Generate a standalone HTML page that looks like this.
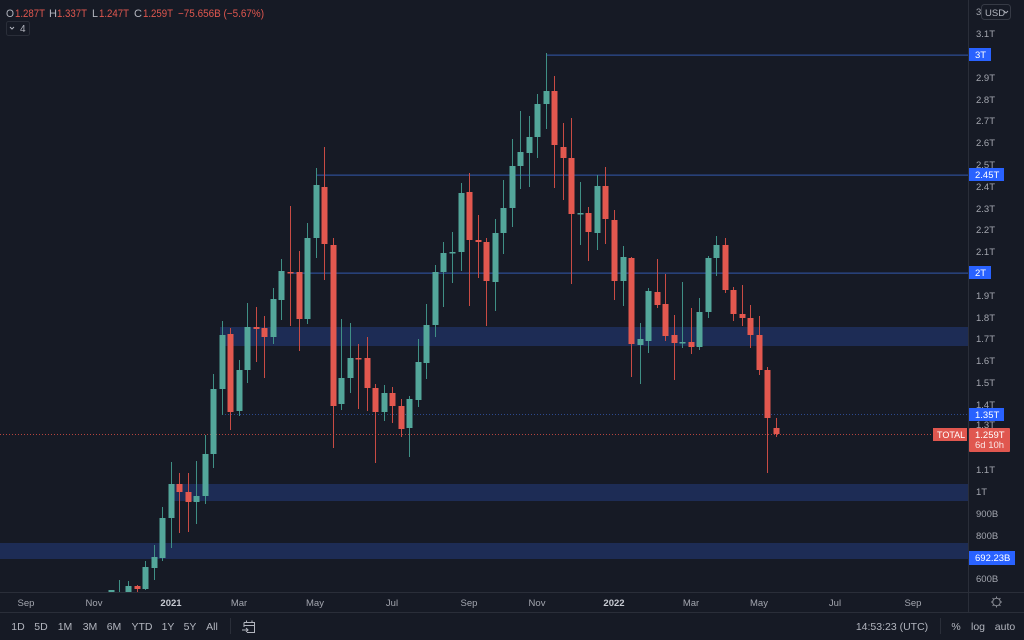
<!DOCTYPE html>
<html>
<head>
<meta charset="utf-8">
<style>
  html,body{margin:0;padding:0;background:#161a25;}
  svg{display:block;}
  text{font-family:"Liberation Sans",sans-serif;}
</style>
</head>
<body>
<svg width="1024" height="640" viewBox="0 0 1024 640" xmlns="http://www.w3.org/2000/svg">
  <defs>
    <clipPath id="chart"><rect x="0" y="0" width="968" height="592"/></clipPath>
  </defs>
  <rect x="0" y="0" width="1024" height="640" fill="#161a25"/>

  <g clip-path="url(#chart)">
    <!-- zones -->
    <rect x="220" y="327" width="748" height="19" fill="#1d2c55"/>
    <rect x="174" y="484" width="794" height="17" fill="#1d2c55"/>
    <rect x="0" y="543" width="968" height="16" fill="#1d2c55"/>
    <!-- horizontal lines -->
    <rect x="546" y="54.5" width="422" height="1.3" fill="#2c4a8e"/>
    <rect x="316" y="174.5" width="652" height="1.3" fill="#2c4a8e"/>
    <rect x="290" y="272.5" width="678" height="1.3" fill="#2c4a8e"/>
    <line x1="222" y1="414.5" x2="968" y2="414.5" stroke="#2c4a8e" stroke-width="1" stroke-dasharray="1,2"/>
    <line x1="0" y1="434.5" x2="968" y2="434.5" stroke="#b5443e" stroke-width="1" stroke-dasharray="1,2"/>

    <!-- green wicks -->
    <path fill="none" stroke="#3f8f85" stroke-width="1" d="
M111.5 590V593 M119.5 580V593 M128.5 581V593 M145.5 561V590 M154.5 545V580 M162.5 507V561 M171.5 462V548
M196.5 461V524 M205.5 435V504 M213.5 374V468 M222.5 321V415 M239.5 360V416 M247.5 303V383 M273.5 288V344
M281.5 259V320 M307.5 223V324 M316.5 168V258 M341.5 319V410 M350.5 323V393 M384.5 385V421 M409.5 396V457
M418.5 339V407 M426.5 304V379 M435.5 265V337 M443.5 242V307 M452.5 232V283 M461.5 183V271 M495.5 219V311
M503.5 180V254 M512.5 139V227 M520.5 111V189 M529.5 116V187 M537.5 94V158 M546.5 53V129 M580.5 182V245
M597.5 175V250 M623.5 246V306 M640.5 323V384 M648.5 288V353 M682.5 282V348 M699.5 298V350 M708.5 256V318
M716.5 236V276"/>
    <!-- red wicks -->
    <path fill="none" stroke="#c84b44" stroke-width="1" d="
M137.5 585V593 M179.5 473V533 M188.5 473V532 M230.5 328V430 M256.5 307V362 M264.5 316V378 M290.5 206V326
M299.5 251V351 M324.5 147V280 M333.5 238V448 M358.5 344V409 M367.5 337V411 M375.5 384V463 M392.5 387V423
M401.5 399V437 M469.5 173V306 M478.5 215V278 M486.5 238V326 M554.5 76V188 M563.5 123V200 M571.5 118V284
M588.5 207V261 M605.5 167V244 M614.5 210V300 M631.5 257V377 M657.5 259V308 M665.5 274V341 M674.5 315V380
M691.5 308V354 M725.5 238V293 M733.5 287V321 M742.5 285V326 M750.5 305V348 M759.5 316V375 M767.5 367V473
M776.5 418V437"/>

    <!-- green bodies -->
    <g fill="#53a69a">
      <rect x="108.5" y="590" width="6" height="2"/>
      <rect x="116.5" y="592" width="6" height="1"/>
      <rect x="125.5" y="586" width="6" height="6"/>
      <rect x="142.5" y="567" width="6" height="22"/>
      <rect x="151.5" y="557" width="6" height="11"/>
      <rect x="159.5" y="518" width="6" height="40"/>
      <rect x="168.5" y="484" width="6" height="34"/>
      <rect x="193.5" y="496" width="6" height="6"/>
      <rect x="202.5" y="454" width="6" height="42"/>
      <rect x="210.5" y="389" width="6" height="65"/>
      <rect x="219.5" y="335" width="6" height="54"/>
      <rect x="236.5" y="370" width="6" height="41"/>
      <rect x="244.5" y="327" width="6" height="43"/>
      <rect x="270.5" y="299" width="6" height="38"/>
      <rect x="278.5" y="271" width="6" height="29"/>
      <rect x="304.5" y="238" width="6" height="81"/>
      <rect x="313.5" y="185" width="6" height="53"/>
      <rect x="338.5" y="378" width="6" height="26"/>
      <rect x="347.5" y="358" width="6" height="20"/>
      <rect x="381.5" y="393" width="6" height="19"/>
      <rect x="406.5" y="399" width="6" height="29"/>
      <rect x="415.5" y="362" width="6" height="38"/>
      <rect x="423.5" y="325" width="6" height="38"/>
      <rect x="432.5" y="272" width="6" height="53"/>
      <rect x="440.5" y="253" width="6" height="19"/>
      <rect x="449.5" y="252" width="6" height="1.5"/>
      <rect x="458.5" y="193" width="6" height="59"/>
      <rect x="492.5" y="233" width="6" height="49"/>
      <rect x="500.5" y="208" width="6" height="25"/>
      <rect x="509.5" y="166" width="6" height="42"/>
      <rect x="517.5" y="152" width="6" height="14"/>
      <rect x="526.5" y="137" width="6" height="16"/>
      <rect x="534.5" y="104" width="6" height="33"/>
      <rect x="543.5" y="91" width="6" height="13"/>
      <rect x="577.5" y="213" width="6" height="1.5"/>
      <rect x="594.5" y="186" width="6" height="47"/>
      <rect x="620.5" y="257" width="6" height="24"/>
      <rect x="637.5" y="339" width="6" height="6"/>
      <rect x="645.5" y="291" width="6" height="50"/>
      <rect x="679.5" y="342" width="6" height="1.5"/>
      <rect x="696.5" y="312" width="6" height="35"/>
      <rect x="705.5" y="258" width="6" height="54"/>
      <rect x="713.5" y="245" width="6" height="13"/>
    </g>
    <!-- red bodies -->
    <g fill="#e3584f">
      <rect x="134.5" y="586" width="6" height="3"/>
      <rect x="176.5" y="484" width="6" height="8"/>
      <rect x="185.5" y="492" width="6" height="10"/>
      <rect x="227.5" y="334" width="6" height="78"/>
      <rect x="253.5" y="327" width="6" height="2"/>
      <rect x="261.5" y="328" width="6" height="9"/>
      <rect x="287.5" y="272" width="6" height="1.5"/>
      <rect x="296.5" y="272" width="6" height="47"/>
      <rect x="321.5" y="187" width="6" height="57"/>
      <rect x="330.5" y="245" width="6" height="161"/>
      <rect x="355.5" y="358" width="6" height="1.5"/>
      <rect x="364.5" y="358" width="6" height="30"/>
      <rect x="372.5" y="388" width="6" height="24"/>
      <rect x="389.5" y="393" width="6" height="13"/>
      <rect x="398.5" y="406" width="6" height="23"/>
      <rect x="466.5" y="192" width="6" height="48"/>
      <rect x="475.5" y="240" width="6" height="2"/>
      <rect x="483.5" y="242" width="6" height="39"/>
      <rect x="551.5" y="91" width="6" height="54"/>
      <rect x="560.5" y="147" width="6" height="11"/>
      <rect x="568.5" y="158" width="6" height="56"/>
      <rect x="585.5" y="213" width="6" height="19"/>
      <rect x="602.5" y="186" width="6" height="33"/>
      <rect x="611.5" y="220" width="6" height="61"/>
      <rect x="628.5" y="258" width="6" height="86"/>
      <rect x="654.5" y="292" width="6" height="13"/>
      <rect x="662.5" y="304" width="6" height="32"/>
      <rect x="671.5" y="335" width="6" height="8"/>
      <rect x="688.5" y="342" width="6" height="5"/>
      <rect x="722.5" y="245" width="6" height="45"/>
      <rect x="730.5" y="290" width="6" height="24"/>
      <rect x="739.5" y="314" width="6" height="4"/>
      <rect x="747.5" y="318" width="6" height="17"/>
      <rect x="756.5" y="335" width="6" height="35"/>
      <rect x="764.5" y="370" width="6" height="48"/>
      <rect x="773.5" y="428" width="6" height="6"/>
    </g>
  </g>

  <!-- header -->
  <g font-size="11">
    <text x="6" y="17" fill="#b2b5be" textLength="8" lengthAdjust="spacingAndGlyphs">O</text>
    <text x="15" y="17" fill="#e0574f" textLength="30" lengthAdjust="spacingAndGlyphs">1.287T</text>
    <text x="49" y="17" fill="#b2b5be" textLength="8" lengthAdjust="spacingAndGlyphs">H</text>
    <text x="57" y="17" fill="#e0574f" textLength="30" lengthAdjust="spacingAndGlyphs">1.337T</text>
    <text x="92" y="17" fill="#b2b5be" textLength="6" lengthAdjust="spacingAndGlyphs">L</text>
    <text x="99" y="17" fill="#e0574f" textLength="30" lengthAdjust="spacingAndGlyphs">1.247T</text>
    <text x="134" y="17" fill="#b2b5be" textLength="8" lengthAdjust="spacingAndGlyphs">C</text>
    <text x="143" y="17" fill="#e0574f" textLength="30" lengthAdjust="spacingAndGlyphs">1.259T</text>
    <text x="178" y="17" fill="#e0574f" textLength="86" lengthAdjust="spacingAndGlyphs">−75.656B (−5.67%)</text>
  </g>
  <rect x="6.5" y="21.5" width="23" height="14" rx="2" fill="none" stroke="#2a2e39"/>
  <path d="M10 27 L12 29 L14 27" fill="none" stroke="#b2b5be" stroke-width="1"/>
  <text x="20" y="32" font-size="10" fill="#b2b5be">4</text>

  <!-- price axis -->
  <line x1="968.5" y1="0" x2="968.5" y2="612" stroke="#2a2e39"/>
  <g font-size="9.5" fill="#a3a6af">
    <text x="976" y="15">3</text>
    <text x="976" y="37">3.1T</text>
    <text x="976" y="81">2.9T</text>
    <text x="976" y="103">2.8T</text>
    <text x="976" y="124">2.7T</text>
    <text x="976" y="146">2.6T</text>
    <text x="976" y="168">2.5T</text>
    <text x="976" y="190">2.4T</text>
    <text x="976" y="212">2.3T</text>
    <text x="976" y="233">2.2T</text>
    <text x="976" y="255">2.1T</text>
    <text x="976" y="299">1.9T</text>
    <text x="976" y="321">1.8T</text>
    <text x="976" y="342">1.7T</text>
    <text x="976" y="364">1.6T</text>
    <text x="976" y="386">1.5T</text>
    <text x="976" y="408">1.4T</text>
    <text x="976" y="428">1.3T</text>
    <text x="976" y="473">1.1T</text>
    <text x="976" y="495">1T</text>
    <text x="976" y="517">900B</text>
    <text x="976" y="539">800B</text>
    <text x="976" y="582">600B</text>
  </g>
  <!-- USD button -->
  <rect x="981.5" y="4.5" width="29" height="15" rx="3" fill="#161a25" stroke="#363a45"/>
  <text x="985" y="16" font-size="9.5" fill="#b2b5be">USD</text>
  <path d="M1004 11 L1006 13 L1008 11" fill="none" stroke="#b2b5be" stroke-width="0.9"/>

  <!-- price labels -->
  <rect x="969" y="48" width="22" height="13" fill="#2962ff"/>
  <text x="975" y="58" font-size="9.5" fill="#ffffff">3T</text>
  <rect x="969" y="168" width="35" height="13" fill="#2962ff"/>
  <text x="975" y="178" font-size="9.5" fill="#ffffff">2.45T</text>
  <rect x="969" y="266" width="22" height="13" fill="#2962ff"/>
  <text x="975" y="276" font-size="9.5" fill="#ffffff">2T</text>
  <rect x="969" y="408" width="35" height="13" fill="#2962ff"/>
  <text x="975" y="418" font-size="9.5" fill="#ffffff">1.35T</text>
  <rect x="969" y="551" width="46" height="14" fill="#2962ff"/>
  <text x="975" y="561" font-size="9.5" fill="#ffffff">692.23B</text>
  <!-- TOTAL + current price -->
  <rect x="933" y="428" width="34" height="13" fill="#e0574f"/>
  <text x="937" y="438" font-size="9" fill="#ffffff">TOTAL</text>
  <rect x="969" y="428" width="41" height="24" rx="1" fill="#e0574f"/>
  <text x="975" y="438" font-size="9.5" fill="#ffffff">1.259T</text>
  <text x="975" y="448" font-size="9.5" fill="#ffffff" opacity="0.85">6d 10h</text>

  <!-- time axis -->
  <line x1="0" y1="592.5" x2="1024" y2="592.5" stroke="#2a2e39"/>
  <line x1="0" y1="612.5" x2="1024" y2="612.5" stroke="#2a2e39"/>
  <g font-size="9.5" fill="#a3a6af" text-anchor="middle">
    <text x="26" y="606">Sep</text>
    <text x="94" y="606">Nov</text>
    <text x="171" y="606" font-weight="bold" fill="#c8cbd3">2021</text>
    <text x="239" y="606">Mar</text>
    <text x="315" y="606">May</text>
    <text x="392" y="606">Jul</text>
    <text x="469" y="606">Sep</text>
    <text x="537" y="606">Nov</text>
    <text x="614" y="606" font-weight="bold" fill="#c8cbd3">2022</text>
    <text x="691" y="606">Mar</text>
    <text x="759" y="606">May</text>
    <text x="835" y="606">Jul</text>
    <text x="913" y="606">Sep</text>
  </g>
  <!-- gear -->
  <g stroke="#8a8d96" stroke-width="1" fill="none">
    <circle cx="996.5" cy="602" r="3.8"/>
    <path d="M996.5 596.5V598 M996.5 606V607.5 M991 602H992.5 M1000.5 602H1002 M992.6 598.1L993.6 599.1 M999.4 604.9L1000.4 605.9 M1000.4 598.1L999.4 599.1 M993.6 604.9L992.6 605.9"/>
  </g>

  <!-- bottom toolbar -->
  <g font-size="10.5" fill="#b2b5be" text-anchor="middle">
    <text x="18" y="630">1D</text>
    <text x="41" y="630">5D</text>
    <text x="65" y="630">1M</text>
    <text x="90" y="630">3M</text>
    <text x="114" y="630">6M</text>
    <text x="142" y="630">YTD</text>
    <text x="168" y="630">1Y</text>
    <text x="190" y="630">5Y</text>
    <text x="212" y="630">All</text>
    <text x="892" y="630">14:53:23 (UTC)</text>
    <text x="956" y="630">%</text>
    <text x="978" y="630">log</text>
    <text x="1005" y="630">auto</text>
  </g>
  <line x1="230.5" y1="618" x2="230.5" y2="634" stroke="#2a2e39"/>
  <line x1="940.5" y1="618" x2="940.5" y2="634" stroke="#2a2e39"/>
  <!-- calendar icon -->
  <g stroke="#b2b5be" stroke-width="1" fill="none">
    <path d="M244 622.5H254.5V632.5H247"/>
    <path d="M244 622.5V627"/>
    <path d="M244 625.5H254.5"/>
    <path d="M246.5 620.5V622.5 M252 620.5V622.5"/>
    <path d="M242 630H248 M246 628L248 630L246 632"/>
  </g>
</svg>
</body>
</html>
